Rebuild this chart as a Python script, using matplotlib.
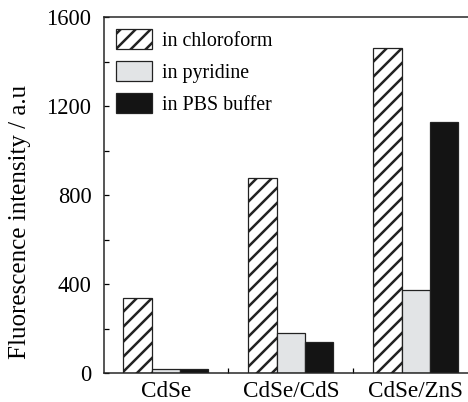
import matplotlib
matplotlib.use("Agg")
import matplotlib.pyplot as plt
import numpy as np
from matplotlib.ticker import MultipleLocator, FixedLocator

categories = ["CdSe", "CdSe/CdS", "CdSe/ZnS"]
series_names = ["in chloroform", "in pyridine", "in PBS buffer"]
chloroform = [340, 876, 1461]
pyridine = [18, 180, 374]
pbs = [19, 141, 1129]

plt.rcParams['font.family'] = ['Liberation Serif', 'DejaVu Serif']
plt.rcParams['hatch.linewidth'] = 2.0
plt.rcParams['hatch.color'] = '#111111'

DPI = 90
fig = plt.figure(figsize=(468 / DPI, 402 / DPI), dpi=DPI)
ax = fig.add_axes([104 / 468, 1 - 373.3 / 402, 1 - 104 / 468, (373.3 - 17.3) / 402])

x = np.arange(len(categories))
w = 0.226
styles = [
    dict(facecolor='white', hatch='//'),
    dict(facecolor='#e2e4e6'),
    dict(facecolor='#141414'),
]
for i, (vals, name, st) in enumerate(zip([chloroform, pyridine, pbs], series_names, styles)):
    ax.bar(x + (i - 1) * w, vals, width=w, edgecolor='#222222', linewidth=1.0,
           label=name, **st)

ax.set_xlim(-0.494, 2.418)
ax.set_ylim(0, 1600)
ax.set_xticks(x)
ax.set_xticklabels(categories)
ax.xaxis.set_minor_locator(FixedLocator([0.5, 1.5]))
ax.yaxis.set_major_locator(MultipleLocator(400))
ax.yaxis.set_minor_locator(MultipleLocator(200))
ax.tick_params(axis='x', which='major', length=0, pad=6, labelsize=18.5)
ax.tick_params(axis='x', which='minor', direction='in', length=4, width=1)
ax.tick_params(axis='y', which='both', direction='in', length=4, width=1, pad=10, labelsize=18)

for s in ['left', 'bottom', 'top']:
    ax.spines[s].set_linewidth(1.2)
    ax.spines[s].set_color('#222222')
ax.spines['right'].set_visible(False)

ax.set_ylabel("Fluorescence intensity / a.u", fontsize=20)
ax.yaxis.set_label_coords(-0.2, 0.425)

leg = ax.legend(loc='upper left', frameon=False, fontsize=16,
                handlelength=1.8, handleheight=1.15, handletextpad=0.5,
                labelspacing=0.52, borderaxespad=0.3, borderpad=0.3)

fig.savefig("out.png", dpi=DPI)
